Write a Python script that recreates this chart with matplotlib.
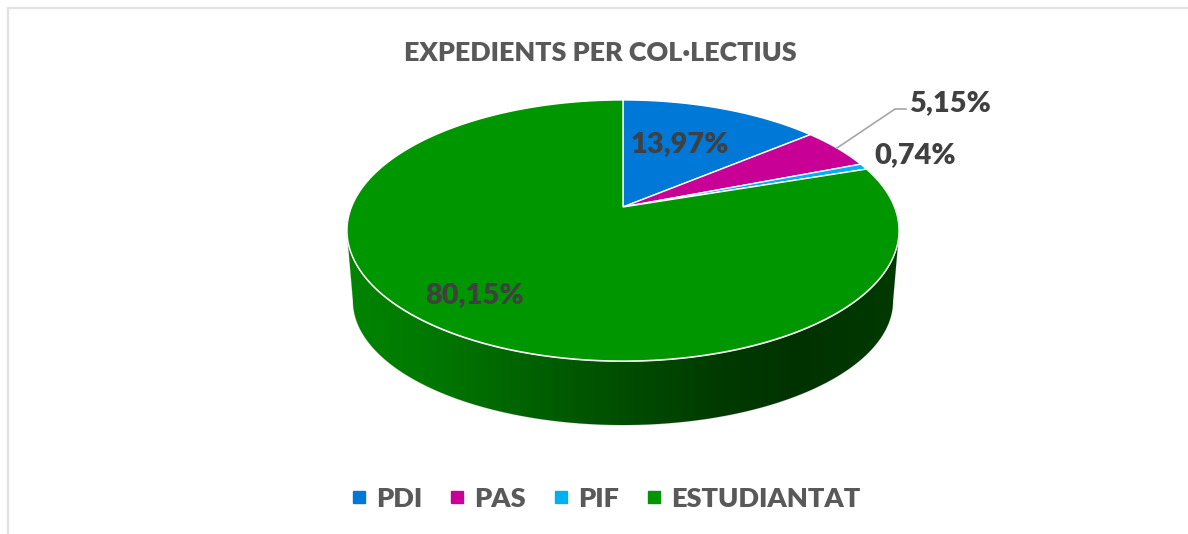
import numpy as np
import matplotlib
matplotlib.use('Agg')
import matplotlib.pyplot as plt
from matplotlib.colors import LinearSegmentedColormap
from matplotlib.lines import Line2D
from matplotlib.patches import Polygon

title = "EXPEDIENTS PER COL·LECTIUS"
categories = ["PDI", "PAS", "PIF", "ESTUDIANTAT"]
shares = [13.97, 5.15, 0.74, 80.15]
colors = ["#0078D7", "#C90096", "#00B0F0", "#009600"]

plt.rcParams['font.family'] = ['Lato', 'DejaVu Sans']
plt.rcParams['font.weight'] = 800

# pie plane seen in perspective, everything in pixels of the picture
cx, cy = 623.0, 207.0
persp = 0.18
ya = 126.3
xa = 271.5


def project(angle):
    # angle in radians, clockwise from 12 o'clock
    u = np.sin(angle)
    v = np.cos(angle)
    d = 1 + persp * v
    return cx + xa * u / d, cy - ya * v / d


fig = plt.figure(figsize=(11.88, 5.34), dpi=100)
ax = fig.add_axes([0, 0, 1, 1])
ax.set_xlim(0, 1188)
ax.set_ylim(534, 0)
ax.axis('off')

# frame of the chart, only top and left show
ax.plot([8, 8, 1188], [534, 8, 8], color='#E2E2E2', lw=1.6, solid_joinstyle='miter')

# side of the pie
t = np.linspace(-np.pi / 2, np.pi / 2, 200)
top_x = 623 + 276 * np.sin(t)
top_y = 232 + 130 * np.cos(t)
bot_x = 623 + 270 * np.sin(t)
bot_y = 301 + 124 * np.cos(t)
side = np.vstack([np.column_stack([top_x, top_y]),
                  np.column_stack([bot_x, bot_y])[::-1]])
side_patch = Polygon(side, closed=True, facecolor='none', edgecolor='#D8D8D8', lw=0.8, zorder=2)
ax.add_patch(side_patch)
shade = LinearSegmentedColormap.from_list('shade', [
    (0.00, '#008400'), (0.15, '#007800'), (0.35, '#005F00'), (0.50, '#004D00'),
    (0.68, '#003A00'), (0.82, '#003200'), (1.00, '#003A00')])
img = ax.imshow(np.linspace(0, 1, 256).reshape(1, -1), cmap=shade, aspect='auto',
                extent=(347, 899, 430, 230), zorder=2.5)
img.set_clip_path(side_patch)
ax.set_xlim(0, 1188)
ax.set_ylim(534, 0)

# top of the pie
start = 0.0
for share, color in zip(shares, colors):
    stop = start + share / sum(shares) * 2 * np.pi
    a = np.linspace(start, stop, 300)
    x, y = project(a)
    ax.fill(np.r_[cx, x], np.r_[cy, y], facecolor=color, edgecolor='white', lw=1.0,
            joinstyle='miter', zorder=3)
    start = stop

# data labels
labels = [f"{s:.2f}".replace('.', ',') + "%" for s in shares]
label_pos = [(680, 144), (950, 103), (915, 155), (474, 295)]
for lab, (lx, ly) in zip(labels, label_pos):
    ax.text(lx, ly, lab, fontsize=20.8, color='#404040', ha='center', va='center', zorder=5)
ax.plot([837, 895, 906], [148, 109, 109], color='#A6A6A6', lw=1.2, zorder=4)

ax.text(600, 53, title, fontsize=19.4, color='#595959', ha='center', va='center')

handles = [Line2D([], [], linestyle='none', marker='s', markersize=8.5, color=c) for c in colors]
ax.legend(handles, categories, ncol=4, loc='center', bbox_to_anchor=(606.5 / 1188, 1 - 499 / 534),
          frameon=False, fontsize=19.6, labelcolor='#595959', handlelength=0.45,
          handletextpad=0.42, columnspacing=1.04)

fig.savefig("out.png", dpi=100)
